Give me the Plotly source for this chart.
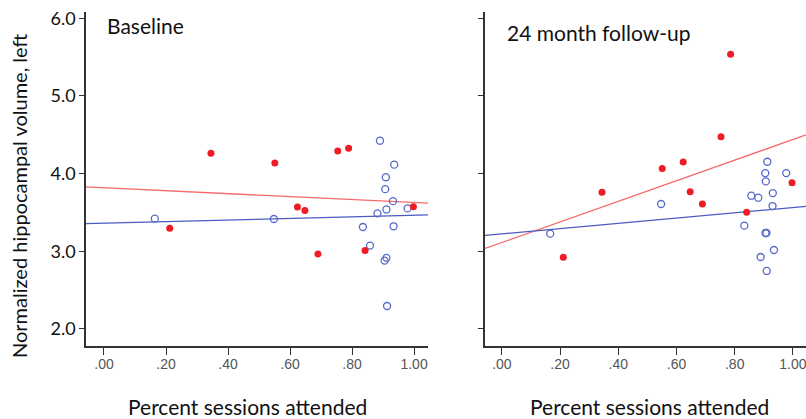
import numpy as np
import plotly.graph_objects as go

# ---- data ----
base_red_x = [0.212, 0.345, 0.551, 0.624, 0.648, 0.690, 0.754, 0.789, 0.842, 0.998]
base_red_y = [3.295, 4.261, 4.137, 3.568, 3.526, 2.966, 4.291, 4.325, 3.009, 3.573]
base_blue_x = [0.164, 0.548, 0.890, 0.936, 0.909, 0.907, 0.932, 0.911, 0.882, 0.979,
               0.835, 0.934, 0.858, 0.911, 0.905, 0.913]
base_blue_y = [3.419, 3.415, 4.423, 4.115, 3.953, 3.799, 3.645, 3.538, 3.487, 3.551,
               3.312, 3.321, 3.073, 2.915, 2.880, 2.295]

fu_red_x = [0.211, 0.344, 0.551, 0.623, 0.647, 0.689, 0.753, 0.786, 0.841, 0.997]
fu_red_y = [2.922, 3.758, 4.066, 4.148, 3.766, 3.608, 4.474, 5.537, 3.501, 3.882]
fu_blue_x = [0.166, 0.547, 0.833, 0.912, 0.905, 0.907, 0.857, 0.881, 0.931, 0.930,
             0.977, 0.909, 0.906, 0.935, 0.889, 0.910]
fu_blue_y = [3.226, 3.608, 3.329, 4.152, 4.006, 3.899, 3.715, 3.689, 3.749, 3.582,
             4.006, 3.235, 3.235, 3.016, 2.926, 2.746]

x_ticks = [0.0, 0.2, 0.4, 0.6, 0.8, 1.0]
x_tick_labels = [".00", ".20", ".40", ".60", ".80", "1.00"]
y_ticks = [2.0, 3.0, 4.0, 5.0, 6.0]
y_tick_labels = ["2.0", "3.0", "4.0", "5.0", "6.0"]
panel_titles = ["Baseline", "24 month follow-up"]
x_title = "Percent sessions attended"
y_title = "Normalized hippocampal volume, left"

RED = "#ee1c24"
BLUE = "#5468c8"
RED_LINE = "#f46a6a"
BLUE_LINE = "#4a5cc0"
XR = [-0.058, 1.045]
YR = [1.78, 6.08]

fig = go.Figure()


def fit_line(x, y):
    m, b = np.polyfit(np.array(x), np.array(y), 1)
    xs = np.array(XR)
    return xs, m * xs + b


panels = [
    (base_red_x, base_red_y, base_blue_x, base_blue_y, "x", "y"),
    (fu_red_x, fu_red_y, fu_blue_x, fu_blue_y, "x2", "y2"),
]
for rx, ry, bx, by, xa, ya in panels:
    lx, ly = fit_line(rx, ry)
    fig.add_trace(go.Scatter(x=lx, y=ly, mode="lines", line=dict(color=RED_LINE, width=1.3),
                             xaxis=xa, yaxis=ya, showlegend=False, hoverinfo="skip"))
    lx, ly = fit_line(bx, by)
    fig.add_trace(go.Scatter(x=lx, y=ly, mode="lines", line=dict(color=BLUE_LINE, width=1.3),
                             xaxis=xa, yaxis=ya, showlegend=False, hoverinfo="skip"))
    fig.add_trace(go.Scatter(x=bx, y=by, mode="markers",
                             marker=dict(symbol="circle-open", size=7, color=BLUE,
                                         line=dict(width=1.3, color=BLUE)),
                             xaxis=xa, yaxis=ya, showlegend=False))
    fig.add_trace(go.Scatter(x=rx, y=ry, mode="markers",
                             marker=dict(symbol="circle", size=7, color=RED, line=dict(width=0)),
                             xaxis=xa, yaxis=ya, showlegend=False))

# empty traces so the label-only overlay axes are drawn
for xa, ya in [("x3", "y"), ("x4", "y2")]:
    fig.add_trace(go.Scatter(x=[None], y=[None], xaxis=xa, yaxis=ya, showlegend=False,
                             hoverinfo="skip"))

W, H = 806, 419
ydom = [73 / H, 407 / H]
XFONT = dict(family="Liberation Sans Narrow, Arial Narrow, Liberation Sans, sans-serif",
             size=14, color="#555555")
YFONT = dict(family="Lato, sans-serif", size=18, color="#111111")

line_x = dict(range=XR, tickvals=x_ticks, showticklabels=False, showgrid=False,
              zeroline=False, showline=True, linecolor="#333333", linewidth=1.5,
              ticks="outside", ticklen=7, tickcolor="#333333", tickwidth=1,
              automargin=False, fixedrange=True)
label_x = dict(range=XR, tickvals=x_ticks, ticktext=x_tick_labels, showgrid=False,
               zeroline=False, showline=False, ticks="outside", ticklen=5,
               tickcolor="rgba(0,0,0,0)", side="bottom",
               tickfont=XFONT, ticklabeloverflow="allow", automargin=False, fixedrange=True)
line_y = dict(range=YR, tickvals=y_ticks, showgrid=False,
              zeroline=False, showline=True, linecolor="#333333", linewidth=1.5,
              ticks="outside", ticklen=5, tickcolor="#333333", tickwidth=1,
              domain=ydom, automargin=False, fixedrange=True)

TXT = dict(family="Lato, sans-serif", size=21, color="#111111")

fig.update_layout(
    width=W, height=H,
    margin=dict(l=0, r=0, t=0, b=0),
    paper_bgcolor="white", plot_bgcolor="white",
    xaxis=dict(domain=[86 / W, 428 / W], anchor="y", **line_x),
    xaxis2=dict(domain=[485 / W, 1.0], anchor="y2", **line_x),
    xaxis3=dict(overlaying="x", anchor="y", **label_x),
    xaxis4=dict(overlaying="x2", anchor="y2", **label_x),
    yaxis=dict(anchor="x", ticktext=y_tick_labels, tickfont=YFONT, **line_y),
    yaxis2=dict(anchor="x2", showticklabels=False, **line_y),
    annotations=[
        dict(text=panel_titles[0], x=105 / W, y=1 - 25 / H, xref="paper", yref="paper",
             xanchor="left", yanchor="middle", showarrow=False, font=TXT),
        dict(text=panel_titles[1], x=505 / W, y=1 - 33 / H, xref="paper", yref="paper",
             xanchor="left", yanchor="middle", showarrow=False, font=TXT),
        dict(text=x_title, x=247 / W, y=1 - 406 / H, xref="paper", yref="paper",
             xanchor="center", yanchor="middle", showarrow=False, font=TXT),
        dict(text=x_title, x=649 / W, y=1 - 406 / H, xref="paper", yref="paper",
             xanchor="center", yanchor="middle", showarrow=False, font=TXT),
        dict(text=y_title, x=19 / W, y=1 - 196 / H, xref="paper", yref="paper",
             xanchor="center", yanchor="middle", showarrow=False, textangle=-90,
             font=dict(family="Lato, sans-serif", size=20, color="#111111")),
    ],
)

fig.write_html("out.html", config={"displayModeBar": False},
               post_script="document.body.style.margin='0';")
